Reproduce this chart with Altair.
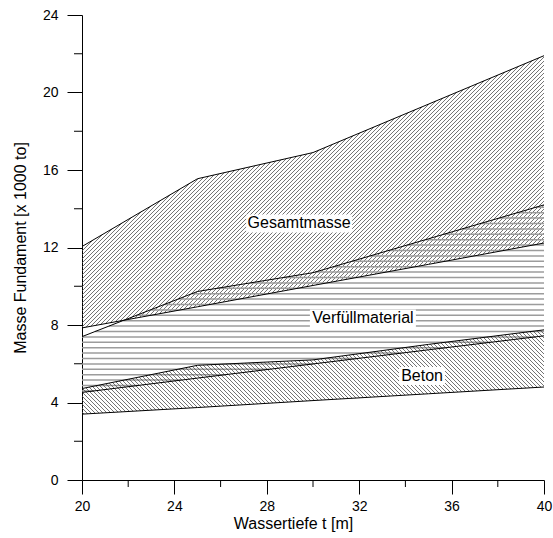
import altair as alt
import numpy as np
import pandas as pd

# ---------------- data ----------------
depth = [20, 25, 30, 35, 40]
gesamt_max = [12.05, 15.55, 16.9, 19.4, 21.9]
gesamt_min = [7.85, 8.94, 10.04, 11.13, 12.23]
verf_max = [7.4, 9.73, 10.7, 12.45, 14.2]
verf_min = [4.52, 5.26, 5.99, 6.72, 7.44]
beton_max = [4.72, 5.92, 6.2, 7.0, 7.75]
beton_min = [3.4, 3.74, 4.1, 4.45, 4.8]

labels = ["Gesamtmasse", "Verfüllmaterial", "Beton"]
label_x = [29.4, 32.16, 34.72]
label_y = [13.24, 8.34, 5.37]

x_major = [20, 24, 28, 32, 36, 40]
x_minor = [22, 26, 30, 34, 38]
y_major = [0, 4, 8, 12, 16, 20, 24]
y_minor = [2, 6, 10, 14, 18, 22]

# ---------------- layout / style ----------------
W, H = 462, 465
X0, X1, Y0, Y1 = 20, 40, 0, 24
FONT = "Liberation Sans"
px_x = W / (X1 - X0)
px_y = H / (Y1 - Y0)
k = px_x / px_y  # slope (data units) of a 45 degree screen line

grid = np.linspace(X0, X1, 8001)


def hatch(lo, up, kind, spacing_px):
    """Segments of a hatch pattern clipped to the band lo(x) .. up(x)."""
    lo_d = np.interp(grid, depth, lo)
    up_d = np.interp(grid, depth, up)
    if kind == "h":
        step = spacing_px / px_y
        params = np.arange(Y0 + step / 2, Y1, step)
        fn = lambda x, c: np.zeros_like(x) + c
    elif kind == "/":
        step = spacing_px / px_x
        params = np.arange(X0 - (Y1 - Y0) / k, X1, step)
        fn = lambda x, a: k * (x - a)
    else:
        step = spacing_px / px_x
        params = np.arange(X0, X1 + (Y1 - Y0) / k, step)
        fn = lambda x, a: k * (a - x)
    rows = []
    for p in params:
        L = fn(grid, p)
        inside = (L >= lo_d) & (L <= up_d)
        if not inside.any():
            continue
        edges = np.flatnonzero(np.diff(np.concatenate(([0], inside.astype(int), [0]))))
        for s, e in zip(edges[::2], edges[1::2]):
            if e - 1 <= s:
                continue
            rows.append({"x": float(grid[s]), "x2": float(grid[e - 1]),
                         "y": float(L[s]), "y2": float(L[e - 1])})
    return pd.DataFrame(rows)


hatch_g = hatch(gesamt_min, gesamt_max, "/", 4.0)
hatch_v = hatch(verf_min, verf_max, "h", 5.4)
hatch_b = hatch(beton_min, beton_max, "\\", 4.0)

series = {
    "gesamt_max": gesamt_max, "gesamt_min": gesamt_min,
    "verf_max": verf_max, "verf_min": verf_min,
    "beton_max": beton_max, "beton_min": beton_min,
}
lines_df = pd.DataFrame([
    {"series": name, "depth": d, "value": v}
    for name, vals in series.items() for d, v in zip(depth, vals)
])

box_w = {"Gesamtmasse": 106, "Verfüllmaterial": 106, "Beton": 46}
box_h = 18
label_df = pd.DataFrame({"label": labels, "x": label_x, "y": label_y})
label_df["shape"] = [
    "M-1,{a}L1,{a}L1,{b}L-1,{b}Z".format(a=-box_h / box_w[l], b=box_h / box_w[l])
    for l in labels
]
label_df["size"] = [box_w[l] ** 2 for l in labels]

xs = alt.Scale(domain=[X0, X1], nice=False, zero=False)
ys = alt.Scale(domain=[Y0, Y1], nice=False, zero=False)

x_axis = alt.Axis(
    values=x_major, tickSize=14, tickColor="black", tickWidth=1,
    domainColor="black", domainWidth=1, grid=False,
    labelFont=FONT, labelFontSize=14, labelColor="black", labelPadding=5,
    labelFlush=False, labelOverlap=False, format="d",
    title="Wassertiefe t [m]", titleFont=FONT, titleFontSize=16,
    titleFontWeight="normal", titleColor="black",
    titleX=W / 2 - 20, titleY=43, titleAlign="center", titleBaseline="middle",
)
y_axis = alt.Axis(
    values=y_major, tickSize=15, tickColor="black", tickWidth=1,
    domainColor="black", domainWidth=1, grid=False,
    labelFont=FONT, labelFontSize=14, labelColor="black", labelPadding=9,
    labelFlush=False, labelOverlap=False, format="d",
    title="Masse Fundament [x 1000 to]", titleFont=FONT, titleFontSize=16,
    titleFontWeight="normal", titleColor="black", titleAngle=-90,
    titleX=-62, titleY=H / 2, titleAlign="center", titleBaseline="middle",
)


def hatch_layer(df, color, width):
    return alt.Chart(df).mark_rule(color=color, strokeWidth=width).encode(
        x=alt.X("x:Q", scale=xs, axis=x_axis),
        x2="x2:Q",
        y=alt.Y("y:Q", scale=ys, axis=y_axis),
        y2="y2:Q",
    )


layer_g = hatch_layer(hatch_g, "#505050", 0.8)
layer_v = hatch_layer(hatch_v, "#9c9c9c", 1.5)
layer_b = hatch_layer(hatch_b, "#505050", 0.8)

layer_lines = alt.Chart(lines_df).mark_line(color="black", strokeWidth=1).encode(
    x=alt.X("depth:Q", scale=xs, axis=x_axis),
    y=alt.Y("value:Q", scale=ys, axis=y_axis),
    detail="series:N",
)

x_minor_layer = alt.Chart(pd.DataFrame({"t": x_minor})).mark_rule(
    color="black", strokeWidth=1
).encode(
    x=alt.X("t:Q", scale=xs, axis=x_axis),
    y=alt.value(H), y2=alt.value(H + 7),
)
y_minor_layer = alt.Chart(pd.DataFrame({"t": y_minor})).mark_rule(
    color="black", strokeWidth=1
).encode(
    y=alt.Y("t:Q", scale=ys, axis=y_axis),
    x=alt.value(0), x2=alt.value(-8),
)

boxes = alt.Chart(label_df).mark_point(
    filled=True, fill="white", opacity=1, strokeWidth=0
).encode(
    x=alt.X("x:Q", scale=xs, axis=x_axis),
    y=alt.Y("y:Q", scale=ys, axis=y_axis),
    shape=alt.Shape("shape:N", scale=None),
    size=alt.Size("size:Q", scale=None),
)
texts = alt.Chart(label_df).mark_text(
    font=FONT, fontSize=16, color="black", align="center", baseline="middle"
).encode(
    x=alt.X("x:Q", scale=xs, axis=x_axis),
    y=alt.Y("y:Q", scale=ys, axis=y_axis),
    text="label:N",
)

chart = alt.layer(
    layer_g, layer_v, layer_b, boxes, layer_lines, x_minor_layer, y_minor_layer, texts
).properties(
    width=W, height=H,
    padding={"left": 82, "top": 15, "right": 9, "bottom": 58},
    autosize=alt.AutoSizeParams(type="none"),
    background="white",
).configure_view(stroke=None)

chart.save("out.html", embed_options={"renderer": "svg", "actions": False})
